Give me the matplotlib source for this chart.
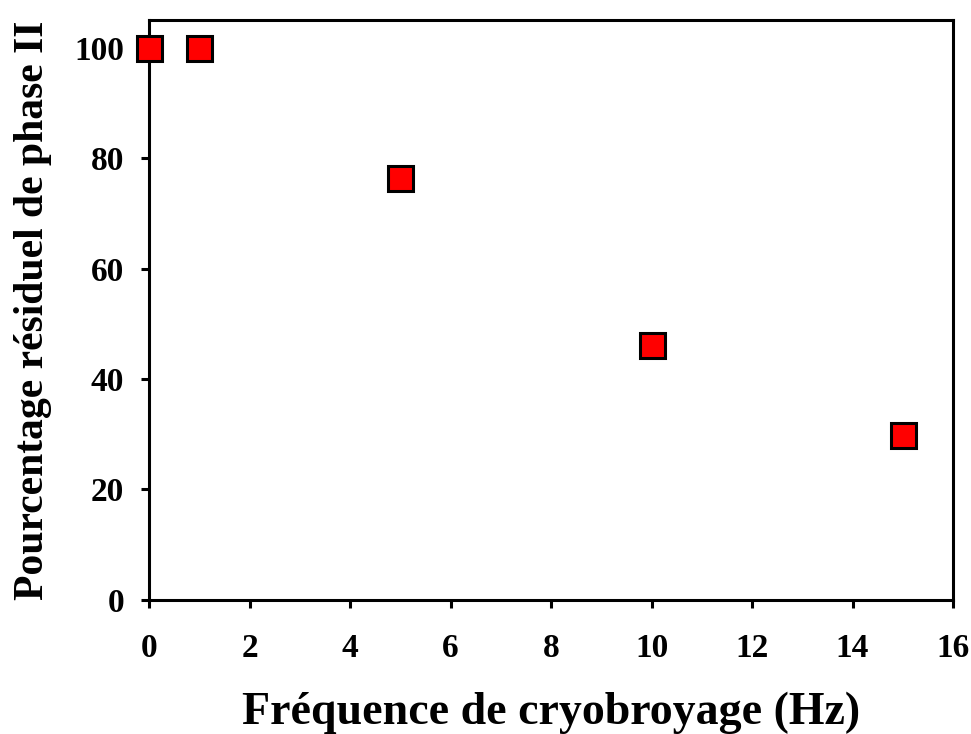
import matplotlib
matplotlib.use("Agg")
import matplotlib.pyplot as plt

frequence = [0, 1, 5, 10, 15]
pourcentage = [100, 100, 76.4, 46.1, 29.8]
xticks = [0, 2, 4, 6, 8, 10, 12, 14, 16]
yticks = [0, 20, 40, 60, 80, 100]

plt.rcParams['font.family'] = ['Liberation Serif', 'DejaVu Serif']
plt.rcParams['font.weight'] = 'bold'

fig = plt.figure(figsize=(9.71, 7.34), dpi=100)
ax = fig.add_axes([0.1535, 0.1826, 0.8280, 0.7902])

ax.plot(frequence, pourcentage, linestyle='none', marker='s', markersize=18,
        markerfacecolor='#ff0000', markeredgecolor='black', markeredgewidth=2.2,
        clip_on=False, zorder=5)

ax.set_xlim(0, 16)
ax.set_ylim(0, 105)
ax.set_xticks(xticks)
ax.set_yticks(yticks)
ax.tick_params(direction='out', length=6, width=2.2, labelsize=24)
ax.tick_params(axis='x', pad=18)
ax.tick_params(axis='y', pad=12)
for s in ax.spines.values():
    s.set_linewidth(2.2)

ax.set_xlabel('Fréquence de cryobroyage (Hz)', fontsize=33, fontweight='bold', labelpad=20)
ax.set_ylabel('Pourcentage résiduel de phase II', fontsize=30, fontweight='bold', labelpad=16)

fig.savefig('out.png', dpi=100)
